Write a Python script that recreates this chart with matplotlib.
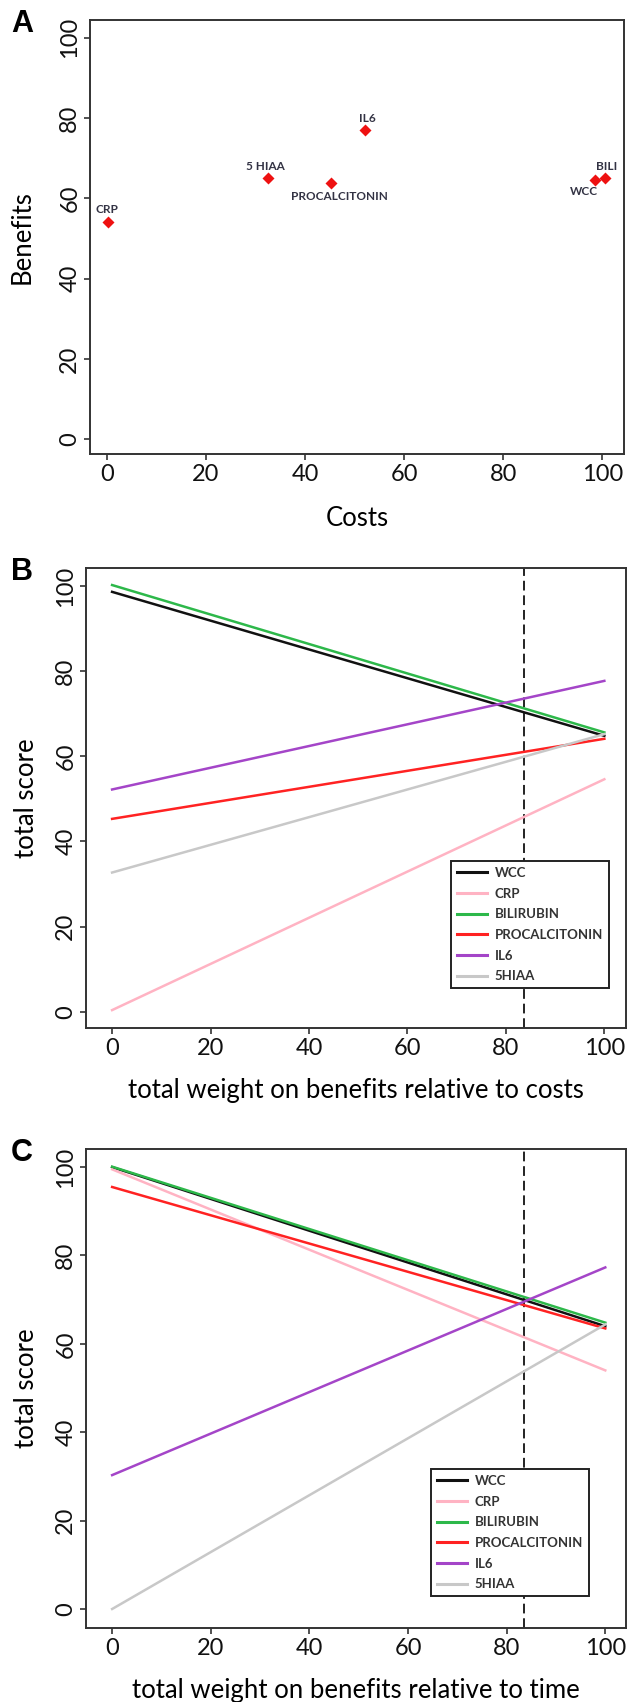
import matplotlib
matplotlib.use("Agg")
import matplotlib.pyplot as plt

plt.rcParams['font.family'] = ['Lato', 'DejaVu Sans']

# panel A: costs vs benefits
test_names = ['CRP', '5 HIAA', 'PROCALCITONIN', 'IL6', 'WCC', 'BILI']
costs = [0.2, 32.5, 45.3, 52.1, 98.5, 100.5]
benefits = [54.2, 65.1, 63.8, 77.0, 64.6, 65.1]
label_offsets = [(-1, 12), (-2, 11), (8, -13), (2, 12), (-11, -12), (2, 11)]

# panels B and C: total score vs weight
markers = ['WCC', 'CRP', 'BILIRUBIN', 'PROCALCITONIN', 'IL6', '5HIAA']
colors = ['#111111', '#FFB3C3', '#2DB84A', '#FF2222', '#A445C8', '#C8C8C8']
weight = [0, 100]
b_start = [98.6, 0.4, 100.2, 45.3, 52.2, 32.7]
b_end = [64.8, 54.6, 65.6, 64.1, 77.7, 65.2]
c_start = [100.0, 99.5, 100.1, 95.5, 30.3, 0.0]
c_end = [64.0, 54.0, 64.8, 63.5, 77.3, 64.4]
cutoff = 83.6

W, H = 628, 1702
fig = plt.figure(figsize=(W / 100, H / 100), dpi=100)

def box(l, r, t, b):
    return [l / W, 1 - b / H, (r - l) / W, (b - t) / H]

def style(ax, xlim, ylim):
    ax.set_xlim(*xlim)
    ax.set_ylim(*ylim)
    ax.set_xticks([0, 20, 40, 60, 80, 100])
    ax.set_yticks([0, 20, 40, 60, 80, 100])
    for s in ax.spines.values():
        s.set_linewidth(1.4)
        s.set_color('#333333')
    ax.tick_params(direction='out', length=4, width=1.2, color='#333333',
                   labelsize=17, labelcolor='#111111')
    ax.tick_params(axis='x', pad=3)
    ax.tick_params(axis='y', pad=3)
    for t in ax.get_yticklabels():
        t.set_rotation(90)
        t.set_va('center')

axA = fig.add_axes(box(90, 624, 20, 454))
style(axA, (-3.4, 104.4), (-3.65, 104.4))
axA.plot(costs, benefits, 'D', color='#EE1111', ms=6.5, mec='none')
for name, x, y, off in zip(test_names, costs, benefits, label_offsets):
    axA.annotate(name, (x, y), xytext=off, textcoords='offset pixels',
                 ha='center', va='center', fontsize=8.5, fontweight='bold',
                 color='#333344')
axA.set_xlabel('Costs', fontsize=18.5, labelpad=15)
axA.set_ylabel('Benefits', fontsize=18.5, labelpad=18)

def score_panel(ax, start, end, xlabel, leg_xy):
    for name, c, s0, s1 in zip(markers, colors, start, end):
        ax.plot(weight, [s0, s1], color=c, lw=1.8, label=name)
    ax.axvline(cutoff, color='#222222', lw=1.4, ls=(0, (5, 2.5)), zorder=1)
    leg = ax.legend(loc='upper left', bbox_to_anchor=leg_xy, borderaxespad=0,
                    fancybox=False, framealpha=1, edgecolor='#222222',
                    prop={'size': 9.5, 'weight': 'bold'}, handlelength=2.3,
                    handletextpad=0.55, borderpad=0.45, labelspacing=0.66)
    leg.get_frame().set_linewidth(1.4)
    leg.set_zorder(5)
    for t in leg.get_texts():
        t.set_color('#333333')
    for h in leg.get_lines():
        h.set_linewidth(2.2)
    ax.set_xlabel(xlabel, fontsize=18.5, labelpad=14)
    ax.set_ylabel('total score', fontsize=18.5, labelpad=12)

axB = fig.add_axes(box(86, 626, 568, 1028))
style(axB, (-5.3, 104.4), (-3.8, 104.2))
score_panel(axB, b_start, b_end, 'total weight on benefits relative to costs',
            ((451 - 86) / 540, (1028 - 861) / 460))

axC = fig.add_axes(box(86, 626, 1149, 1628))
style(axC, (-5.3, 104.2), (-4.3, 104.1))
score_panel(axC, c_start, c_end, 'total weight on benefits relative to time',
            ((431 - 86) / 540, (1628 - 1469) / 479))

for lab, y in [('A', 24), ('B', 572), ('C', 1153)]:
    fig.text(22 / W, 1 - y / H, lab, fontsize=22, fontweight='bold',
             family=['Liberation Sans', 'DejaVu Sans'], ha='center', va='center')

fig.savefig('out.png', dpi=100, facecolor='white')
